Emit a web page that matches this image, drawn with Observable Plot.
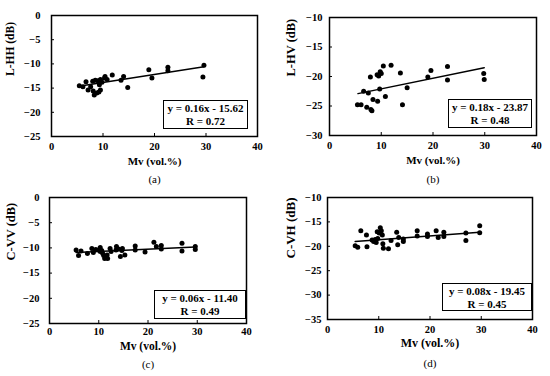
<!DOCTYPE html>
<html><head><meta charset="utf-8">
<script src="https://cdn.jsdelivr.net/npm/d3@7"></script>
<script src="https://cdn.jsdelivr.net/npm/@observablehq/plot@0.6"></script>
<style>
body{margin:0;background:#fff;}
#wrap{position:relative;width:550px;height:376px;background:#fff;font-family:"Liberation Serif",serif;}
.pan{position:absolute;}
.leg{position:absolute;box-sizing:border-box;border:1.5px solid #000;background:#fff;font-weight:bold;font-size:11px;line-height:13px;text-align:center;padding-top:1px;color:#000;}
</style></head>
<body><div id="wrap"></div>
<script>
const xTicks = [0, 10, 20, 30, 40];
const xLabel = "Mv (vol.%)";

const aX = [5.4,6.1,6.7,7.1,7.6,8.0,8.1,8.3,8.5,8.8,9.0,9.2,9.3,9.5,9.5,9.8,10.3,10.4,10.8,11.8,13.5,14.0,14.8,18.9,19.5,22.6,22.6,29.4,29.6];
const aY = [-14.5,-14.7,-13.7,-15.4,-14.7,-13.6,-15.6,-16.4,-13.4,-16.0,-13.5,-15.8,-14.3,-15.4,-13.2,-13.8,-12.9,-12.6,-13.2,-12.3,-13.4,-12.6,-14.9,-11.2,-12.9,-10.7,-11.4,-12.7,-10.3];
const aLineX = [5.3, 29.6];
const aLineY = [-14.6, -10.6];

const bX = [5.4,6.1,6.6,7.2,7.5,7.9,8.0,8.2,8.4,9.2,9.3,9.5,9.7,9.8,10.0,10.4,10.8,11.9,13.7,14.1,15.0,19.0,19.6,22.8,22.8,29.8,29.9];
const bY = [-24.8,-24.8,-22.5,-25.2,-22.8,-20.1,-25.6,-25.8,-23.9,-19.7,-24.2,-19.9,-22.1,-19.2,-19.5,-18.2,-23.4,-18.1,-19.4,-24.8,-21.9,-20.1,-19.0,-18.3,-20.6,-19.5,-20.5];
const bLineX = [5.5, 29.9];
const bLineY = [-22.9, -18.5];

const cX = [5.4,5.9,6.4,7.7,8.6,8.9,9.4,10.0,10.3,10.3,10.6,10.8,11.0,11.2,11.7,11.8,12.3,12.5,13.5,13.6,14.0,14.4,14.7,14.8,15.3,17.4,17.4,19.4,21.2,21.7,22.7,22.7,26.9,26.9,29.6,29.6];
const cY = [-10.4,-11.5,-10.6,-11.1,-10.1,-10.9,-10.3,-10.4,-10.7,-9.9,-10.5,-11.1,-11.5,-12.1,-11.4,-12.1,-10.1,-10.7,-10.4,-9.7,-10.2,-11.7,-10.5,-10.1,-11.4,-9.6,-10.4,-10.8,-8.9,-9.7,-9.5,-10.2,-9.1,-10.6,-9.7,-10.3];
const cLineX = [5.4, 29.6];
const cLineY = [-10.9, -9.8];

const dX = [5.4,5.9,6.5,7.6,7.7,8.7,9.0,9.3,9.5,9.7,9.8,10.1,10.3,10.5,10.7,10.8,10.9,11.9,12.4,13.5,13.7,13.9,14.8,14.8,17.5,17.5,19.5,19.5,21.2,21.6,22.7,22.7,27.0,27.0,29.7,29.7];
const dY = [-19.9,-20.2,-16.8,-17.7,-20.1,-18.7,-19.0,-18.6,-19.2,-17.0,-18.4,-17.3,-16.2,-16.8,-17.7,-19.5,-20.4,-20.5,-18.8,-17.1,-19.7,-18.2,-19.0,-18.5,-16.8,-17.9,-17.5,-18.0,-16.8,-18.2,-17.1,-18.0,-17.3,-18.8,-15.8,-17.2];
const dLineX = [5.4, 29.7];
const dLineY = [-19.0, -17.1];

const yLabels = ["L-HH (dB)", "L-HV (dB)", "C-VV (dB)", "C-VH (dB)"];
const captions = ["(a)", "(b)", "(c)", "(d)"];
const equations = ["y = 0.16x - 15.62", "y = 0.18x - 23.87", "y = 0.06x - 11.40", "y = 0.08x - 19.45"];
const rValues = ["R = 0.72", "R = 0.48", "R = 0.49", "R = 0.45"];
const yTicksA = [0, -5, -10, -15, -20, -25];
const yTicksB = [-10, -15, -20, -25, -30];
const yTicksC = [0, -5, -10, -15, -20, -25];
const yTicksD = [-10, -15, -20, -25, -30, -35];

const panels = [
  {x:aX, y:aY, lx:aLineX, ly:aLineY, yt:yTicksA, left:0, top:0, h:186, ml:51, mr:18, mt:15, mb:50, gap:11, tp:6, ylx:10, ylfs:11.5, xlfs:11, xldy:28, capdy:46, leg:[163,100,85,29]},
  {x:bX, y:bY, lx:bLineX, ly:bLineY, yt:yTicksB, left:275, top:0, h:186, ml:54, mr:14, mt:17, mb:51, gap:7, tp:6, ylx:15, ylfs:12.5, xlfs:11, xldy:28, capdy:47, leg:[448,99,84,29]},
  {x:cX, y:cY, lx:cLineX, ly:cLineY, yt:yTicksC, left:0, top:186, h:190, ml:49, mr:29, mt:11, mb:53, gap:10, tp:4, ylx:10, ylfs:12.5, xlfs:11.5, xldy:26, capdy:44, leg:[154,290,92,29]},
  {x:dX, y:dY, lx:dLineX, ly:dLineY, yt:yTicksD, left:275, top:186, h:190, ml:52, mr:18, mt:11, mb:57, gap:6, tp:6, ylx:15, ylfs:13, xlfs:12, xldy:27, capdy:47, leg:[442,283,90,28]}
];

const wrap = document.getElementById("wrap");
panels.forEach((p, i) => {
  const pts = p.x.map((x, k) => ({x, y: p.y[k]}));
  const ln = p.lx.map((x, k) => ({x, y: p.ly[k]}));
  const fw = 275 - p.ml - p.mr;
  const fh = p.h - p.mt - p.mb;
  const yd = [p.yt[p.yt.length - 1], p.yt[0]];
  const svg = Plot.plot({
    width: 275, height: p.h,
    marginLeft: p.ml, marginRight: p.mr, marginTop: p.mt, marginBottom: p.mb,
    style: {fontFamily: "Liberation Serif", fontWeight: "bold", fontSize: "10px", color: "#000", background: "transparent", overflow: "visible"},
    x: {domain: [0, 40]},
    y: {domain: yd},
    marks: [
      Plot.axisX({ticks: xTicks, tickSize: 0, tickPadding: p.tp, label: null, fontSize: 10.5}),
      Plot.axisY({ticks: p.yt, tickSize: 0, tickPadding: p.gap, label: null, fontSize: 10.5}),
      Plot.tickX(xTicks, {x: d => d, stroke: "#000", insetTop: fh - 3}),
      Plot.tickY(p.yt, {y: d => d, stroke: "#000", insetRight: fw - 3}),
      Plot.line(ln, {x: "x", y: "y", stroke: "#000", strokeWidth: 1.5}),
      Plot.dot(pts, {x: "x", y: "y", r: 2.5, fill: "#000", stroke: "none"}),
      Plot.frame({stroke: "#000", strokeWidth: 1.5}),
      Plot.text([yLabels[i]], {frameAnchor: "left", rotate: -90, dx: p.ylx - p.ml, fontSize: p.ylfs, fontWeight: "bold", fill: "#000"}),
      Plot.text([xLabel], {frameAnchor: "bottom", dy: p.xldy, fontSize: p.xlfs, fontWeight: "bold", fill: "#000"}),
      Plot.text([captions[i]], {frameAnchor: "bottom", dy: p.capdy, fontSize: 11, fontWeight: "normal", fill: "#000"})
    ]
  });
  const div = document.createElement("div");
  div.className = "pan";
  div.style.left = p.left + "px";
  div.style.top = p.top + "px";
  div.appendChild(svg);
  wrap.appendChild(div);
  const leg = document.createElement("div");
  leg.className = "leg";
  leg.style.left = p.leg[0] + "px";
  leg.style.top = p.leg[1] + "px";
  leg.style.width = p.leg[2] + "px";
  leg.style.height = p.leg[3] + "px";
  leg.innerHTML = equations[i] + "<br>" + rValues[i];
  wrap.appendChild(leg);
});
</script>
</body></html>
